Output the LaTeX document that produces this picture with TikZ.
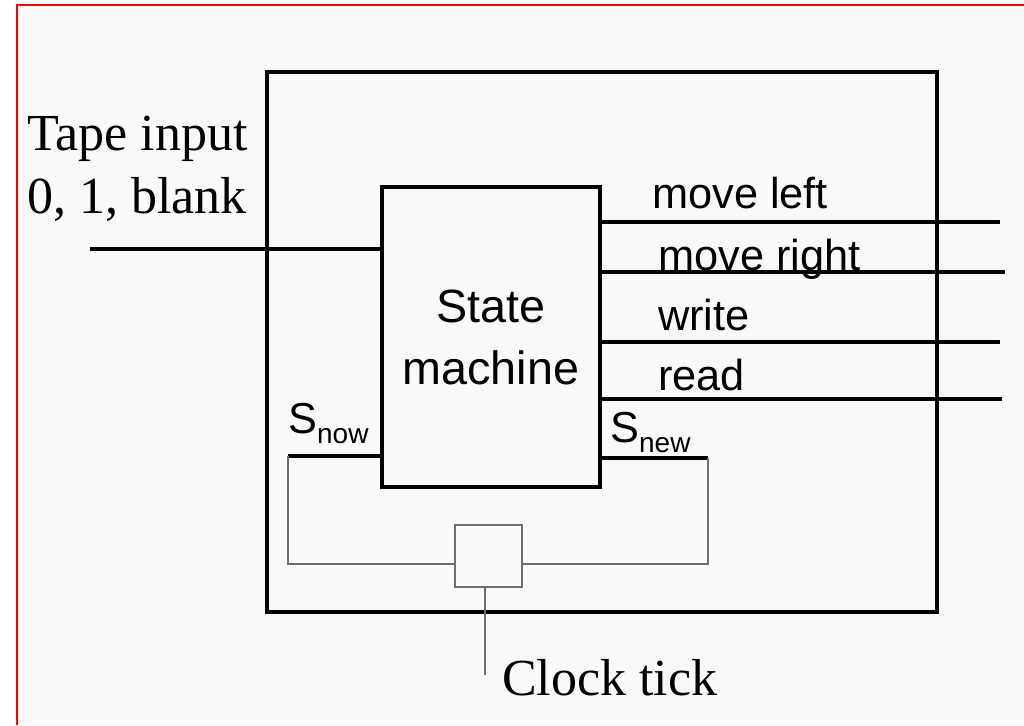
\documentclass[tikz,border=0pt]{standalone}
\usepackage{fontspec}
\setmainfont{Liberation Serif}
\setsansfont{Liberation Sans}
\definecolor{paper}{HTML}{F7FAF8}
\definecolor{wire}{HTML}{6E6E6E}
\tikzset{
  heavy/.style={line width=2.6pt},
  lite/.style={draw=wire, line width=1.2pt},
  lbl/.style={font=\sffamily\fontsize{32.5}{39}\selectfont, inner sep=0pt, anchor=base west},
  serif lbl/.style={font=\fontsize{39}{46}\selectfont, inner sep=0pt, anchor=base west}
}
\begin{document}
\begin{tikzpicture}[x=0.75pt,y=-0.75pt]
\useasboundingbox (0,0) rectangle (1024,725);
\fill[white] (0,0) rectangle (1024,725);
\fill[paper] (17,5) rectangle (1024,725);
\draw[red, line width=1.5pt] (1024,5) -- (17,5) -- (17,725);
% boxes
\node (outer) [draw, line width=2.8pt, minimum width=502.5pt, minimum height=405pt, inner sep=0pt] at (602,342) {};
\node (sm) [draw, line width=2.8pt, minimum width=163.5pt, minimum height=225pt, align=center, font=\sffamily\fontsize{35}{46.5}\selectfont] at (491,337) {State\\machine};
\node (clk) [lite, minimum width=50pt, minimum height=46.5pt, inner sep=0pt] at (488.5,556) {};
% tape input
\node (tape1) [serif lbl] at (27,150) {Tape input};
\node (tape2) [serif lbl] at (27,213) {0, 1, blank};
\coordinate (tin) at (90,249);
\draw[heavy] (tin) -- (tin -| sm.west);
% outputs
\foreach \Y/\R/\X/\B/\T in {222/1000/652/208/move left, 272/1005/658/270/move right, 342/1000/658/330/write, 399/1002/658/390/read} {
  \coordinate (out\Y) at (\R,\Y);
  \draw[heavy] (out\Y -| sm.east) -- (out\Y);
  \node (txt\Y) [lbl] at (\X,\B) {\T};
}
% state feedback
\node (snow) [lbl] at (288,433) {S\raisebox{-7.5pt}{\fontsize{21}{21}\selectfont now}};
\node (snew) [lbl] at (610,442) {S\raisebox{-8pt}{\fontsize{21}{21}\selectfont new}};
\coordinate (nowend) at (288,456);
\coordinate (newend) at (708,458);
\coordinate (loop) at (0,564);
\draw[heavy] (nowend) -- (nowend -| sm.west);
\draw[heavy] (sm.east |- newend) -- (newend);
\draw[lite] (nowend) -- (nowend |- loop) -- (clk.west |- loop);
\draw[lite] (clk.east |- loop) -- (newend |- loop) -- (newend);
% clock
\node (tick) [serif lbl] at (502,695) {Clock tick};
\coordinate (tickend) at (485,675);
\draw[lite] (clk.south -| tickend) -- (tickend);
\end{tikzpicture}
\end{document}
